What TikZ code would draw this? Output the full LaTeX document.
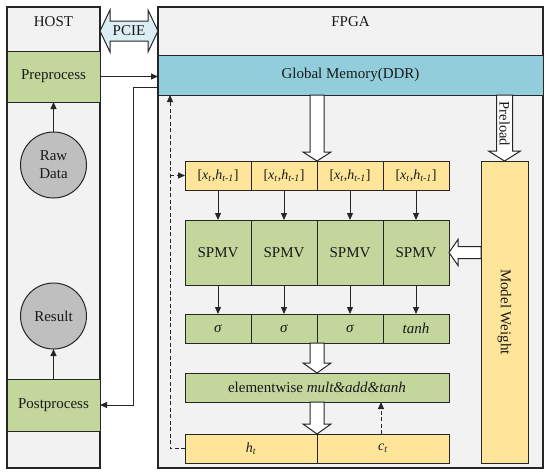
\documentclass[tikz,border=0pt]{standalone}
\usepackage{fontspec}
\setmainfont{Liberation Serif}
\usetikzlibrary{arrows.meta,calc}
\definecolor{panelbg}{HTML}{F2F2F2}
\definecolor{gfill}{HTML}{C3D69B}
\definecolor{yfill}{HTML}{FFE599}
\definecolor{bfill}{HTML}{92CDDC}
\definecolor{cfill}{HTML}{BFBFBF}
\definecolor{pfill}{HTML}{DBEEF4}
\definecolor{edge}{HTML}{262626}
\newcommand\hdown[5]{\draw[hollow] let \p1=(#1), \p2=(#2) in
  (\x2-#3pt,\y1) -- (\x2+#3pt,\y1) -- (\x2+#3pt,\y2+#5pt) -- (\x2+#4pt,\y2+#5pt) -- (\x2,\y2)
  -- (\x2-#4pt,\y2+#5pt) -- (\x2-#3pt,\y2+#5pt) -- cycle;}
\newcommand\hleft[5]{\draw[hollow] let \p1=(#1), \p2=(#2) in
  (\x1,\y2+#3pt) -- (\x2+#5pt,\y2+#3pt) -- (\x2+#5pt,\y2+#4pt) -- (\x2,\y2)
  -- (\x2+#5pt,\y2-#4pt) -- (\x2+#5pt,\y2-#3pt) -- (\x1,\y2-#3pt) -- cycle;}
\newcommand\sub[1]{\textsubscript{\textit{#1}}}
\begin{document}
\begin{tikzpicture}[x=1pt,y=-1pt,
  font=\fontsize{15}{17}\selectfont, text=black!90,
  panel/.style={draw=edge, line width=1.3pt, fill=panelbg, inner sep=0pt, outer sep=0pt},
  gbox/.style={draw=edge, line width=1pt, fill=gfill, inner sep=0pt, outer sep=0pt},
  ybox/.style={draw=edge, line width=1pt, fill=yfill, inner sep=0pt, outer sep=0pt},
  bbox/.style={draw=edge, line width=1pt, fill=bfill, inner sep=0pt, outer sep=0pt},
  circ/.style={circle, draw=edge, line width=1pt, fill=cfill, minimum size=66pt, inner sep=0pt, outer sep=0pt, align=center, font=\fontsize{15}{18}\selectfont},
  arr/.style={-{Triangle[length=7pt,width=6pt]}, line width=1pt, draw=edge},
  darr/.style={arr, dash pattern=on 4pt off 2.5pt},
  hollow/.style={draw=edge, line width=1pt, fill=white, line join=miter},
  small/.style={font=\fontsize{14}{16}\selectfont}
]
\useasboundingbox (0,0) rectangle (550,475);

% panels
\node[panel, minimum width=93, minimum height=461] (host) at (53.5,237.5) {};
\node[panel, minimum width=385, minimum height=461] (fpga) at (350.5,237.5) {};
\node (hostlbl) at (53.5,22) {HOST};
\node (fpgalbl) at (350.5,22) {FPGA};

% PCIE double arrow
\coordinate (pl) at ($(host.north east)+(0,24)$);
\coordinate (pr) at ($(fpga.north west)+(0,24)$);
\draw[draw=edge, line width=1pt, fill=pfill, line join=miter] let \p1=(pl), \p2=(pr) in
  (\x1,\y1) -- (\x1+10pt,\y1+21pt) -- (\x1+10pt,\y1+10pt) -- (\x2-10pt,\y1+10pt) -- (\x2-10pt,\y1+21pt)
  -- (\x2,\y1) -- (\x2-10pt,\y1-21pt) -- (\x2-10pt,\y1-10pt) -- (\x1+10pt,\y1-10pt) -- (\x1+10pt,\y1-21pt) -- cycle;
\node (pcie) at ($(pl)!0.5!(pr)$) {PCIE};

% host side
\node[gbox, minimum width=93, minimum height=51] (pre) at (53.5,76.5) {Preprocess};
\node[circ] (raw) at (53.5,165) {Raw\\Data};
\node[circ] (res) at (53.5,316) {Result};
\node[gbox, minimum width=93, minimum height=52] (post) at (53.5,405) {Postprocess};

% global memory
\node[bbox, minimum width=385, minimum height=40] (gm) at (350.5,75) {Global Memory(DDR)};

% input row
\foreach \i/\cx in {1/218,2/284,3/350,4/416}{
  \node[ybox, minimum width=66, minimum height=29, small] (x\i) at (\cx,175.5) {[\textit{x}\sub{t},\textit{h}\sub{t-1}]};
  \node[gbox, minimum width=66, minimum height=65] (s\i) at (\cx,252.5) {SPMV};
}
\node[gbox, minimum width=66, minimum height=29] (g1) at (218,328.5) {\textit{σ}};
\node[gbox, minimum width=66, minimum height=29] (g2) at (284,328.5) {\textit{σ}};
\node[gbox, minimum width=66, minimum height=29] (g3) at (350,328.5) {\textit{σ}};
\node[gbox, minimum width=66, minimum height=29] (g4) at (416,328.5) {\textit{tanh}};
\node[gbox, minimum width=264, minimum height=29] (ew) at (317,387.5) {elementwise \textit{mult\&add\&tanh}};
\node[ybox, minimum width=132, minimum height=29, small] (ht) at (251,448.5) {\textit{h}\sub{t}};
\node[ybox, minimum width=132, minimum height=29, small] (ct) at (383,448.5) {\textit{c}\sub{t}};

% model weight
\node[ybox, minimum width=47, minimum height=302] (mw) at (504.5,312) {};
\node[rotate=-90] (mwl) at (mw) {Model Weight};

% connectors
\draw[arr] (pre.east) -- (pre.east -| gm.west);
\draw[arr] (raw.north) -- (pre.south);
\draw[arr] (post.north) -- (res.south);
\draw[arr] ([yshift=-12pt]gm.west) -- ++(-25,0) |- (post.east);
\foreach \i in {1,2,3,4}{
  \draw[arr] (x\i.south) -- (s\i.north);
  \draw[arr] (s\i.south) -- (g\i.north);
}
\draw[darr] (ht.west) -- ++(-15,0) coordinate (dl) -- (dl |- gm.south);
\draw[darr] (dl |- x1.west) -- (x1.west);
\draw[darr] ([xshift=-2pt]ct.north) -- ([xshift=-2pt]ct.north |- ew.south);

% hollow arrows
\hdown{gm.south}{x2.north east}{7}{14}{9}
\hdown{g2.south east}{ew.north}{7}{14}{10}
\hdown{ew.south}{ht.north east}{7}{14}{10}
\coordinate (pt) at (mw.north);
\hdown{gm.south}{pt}{8}{16}{10}
\node[rotate=-90, font=\fontsize{14.5}{16}\selectfont] (preload) at ($(gm.south -| mw.north)!0.5!(mw.north)+(0,-4)$) {Preload};
\hleft{mw.west}{s4.east}{6}{13}{9}
\end{tikzpicture}
\end{document}
